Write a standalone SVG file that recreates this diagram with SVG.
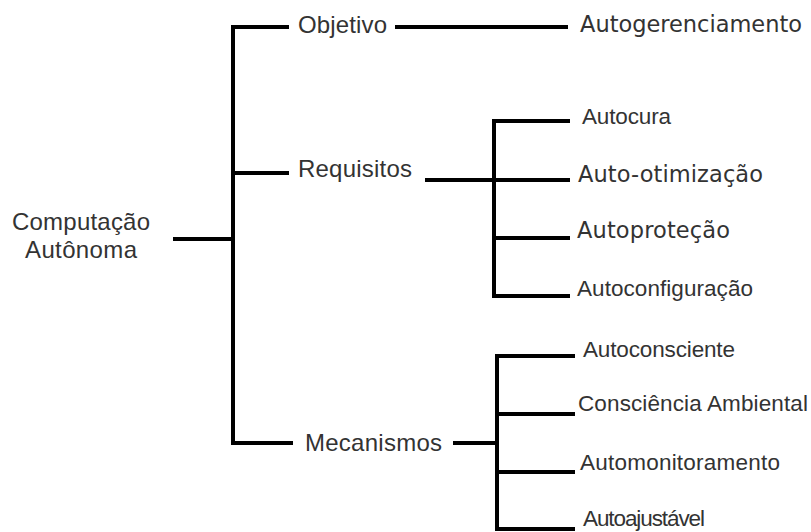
<svg xmlns="http://www.w3.org/2000/svg" width="811" height="532" viewBox="0 0 811 532">
  <style>
    .edge { fill: none; stroke: #000; stroke-width: 4; stroke-linejoin: miter; stroke-linecap: butt; }
    .lbl { fill: #333; font-family: "Liberation Sans", Arial, sans-serif; font-size: 24px; }
    .lbl2 { fill: #333; font-family: "Liberation Sans", Arial, sans-serif; font-size: 22.5px; }
    .dv { fill: #333; font-family: "DejaVu Sans", Verdana, sans-serif; font-size: 22.5px; }
  </style>
  <rect width="811" height="532" fill="#fff"/>

  <!-- connectors -->
  <g id="connectors">
    <!-- root to main trunk -->
    <path class="edge" d="M173,239 H233"/>
    <path class="edge" d="M289,27 H233 V443 H293"/>
    <path class="edge" d="M233,173 H289"/>
    <!-- Objetivo -> Autogerenciamento -->
    <path class="edge" d="M395,27 H568"/>
    <!-- Requisitos sub-tree -->
    <path class="edge" d="M570,121 H494 V296 H570"/>
    <path class="edge" d="M425,180 H570"/>
    <path class="edge" d="M494,238 H570"/>
    <!-- Mecanismos sub-tree -->
    <path class="edge" d="M575,356 H497 V529 H575"/>
    <path class="edge" d="M453,443 H497"/>
    <path class="edge" d="M497,414 H575"/>
    <path class="edge" d="M497,472 H575"/>
  </g>

  <g id="root">
    <text class="lbl" x="12" y="230" textLength="138" lengthAdjust="spacing">Computação</text>
    <text class="lbl" x="25" y="258" textLength="112" lengthAdjust="spacing">Autônoma</text>
  </g>

  <g id="objetivo"><text class="lbl" x="298" y="33" textLength="89" lengthAdjust="spacing">Objetivo</text></g>
  <g id="requisitos"><text class="lbl" x="298" y="177" textLength="114" lengthAdjust="spacing">Requisitos</text></g>
  <g id="mecanismos"><text class="lbl" x="305" y="451" textLength="137" lengthAdjust="spacing">Mecanismos</text></g>

  <g id="autogerenciamento"><text class="dv" x="580" y="32" textLength="222" lengthAdjust="spacing">Autogerenciamento</text></g>

  <g id="autocura"><text class="lbl2" x="582" y="124" textLength="89" lengthAdjust="spacing">Autocura</text></g>
  <g id="auto-otimizacao"><text class="dv" x="578" y="182" textLength="185" lengthAdjust="spacing">Auto-otimização</text></g>
  <g id="autoprotecao"><text class="dv" x="577" y="238" textLength="153" lengthAdjust="spacing">Autoproteção</text></g>
  <g id="autoconfiguracao"><text class="lbl2" x="577" y="296" textLength="176" lengthAdjust="spacing">Autoconfiguração</text></g>

  <g id="autoconsciente"><text class="lbl2" x="583" y="357" textLength="152" lengthAdjust="spacing">Autoconsciente</text></g>
  <g id="consciencia-ambiental"><text class="lbl2" x="578" y="411" textLength="230" lengthAdjust="spacing">Consciência Ambiental</text></g>
  <g id="automonitoramento"><text class="lbl2" x="580" y="470" textLength="200" lengthAdjust="spacing">Automonitoramento</text></g>
  <g id="autoajustavel"><text class="lbl2" x="583" y="526" textLength="122" lengthAdjust="spacing">Autoajustável</text></g>
</svg>
